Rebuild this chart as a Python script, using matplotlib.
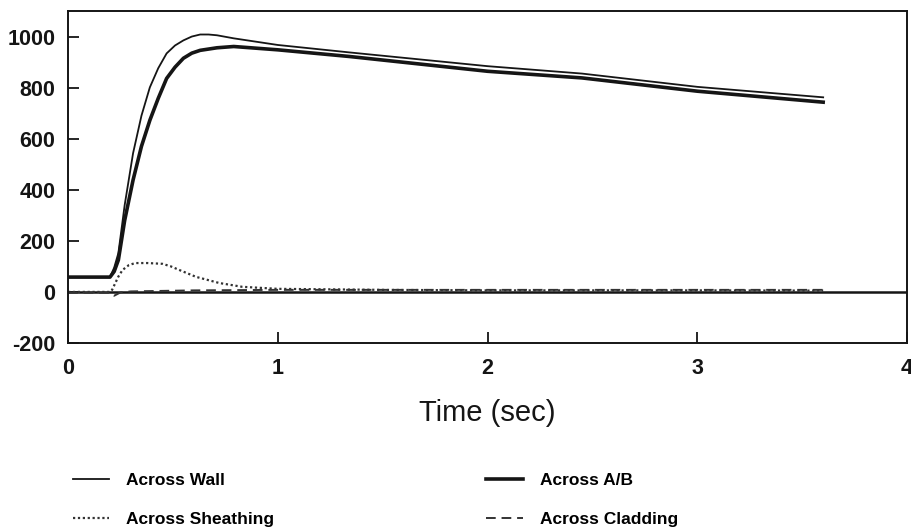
import matplotlib
matplotlib.use("Agg")
import matplotlib.pyplot as plt

# values (pressure vs time)
time_wall = [0, 0.2, 0.22, 0.24, 0.27, 0.31, 0.35, 0.39, 0.43, 0.47, 0.51, 0.55, 0.59, 0.63, 0.67, 0.71, 0.79, 1.0, 1.34, 2.0, 2.45, 3.0, 3.6]
across_wall = [58, 58, 95, 152, 340, 543, 690, 801, 876, 934, 965, 985, 1000, 1008, 1008, 1005, 993, 967, 938, 884, 855, 803, 762]

time_ab = [0, 0.2, 0.22, 0.24, 0.27, 0.31, 0.35, 0.39, 0.43, 0.47, 0.51, 0.55, 0.59, 0.63, 0.71, 0.79, 1.0, 1.34, 2.0, 2.45, 3.0, 3.6]
across_ab = [58, 58, 80, 125, 280, 438, 570, 672, 758, 836, 880, 915, 935, 946, 956, 961, 948, 922, 864, 838, 786, 743]

time_sheath = [0, 0.2, 0.21, 0.24, 0.26, 0.29, 0.32, 0.38, 0.45, 0.49, 0.53, 0.61, 0.72, 0.83, 1.0, 1.5, 2.0, 2.5, 3.0, 3.6]
across_sheath = [0, 0, 8, 60, 86, 105, 113, 113, 110, 100, 86, 59, 35, 20, 12, 8, 6, 6, 6, 5]

time_clad = [0, 0.2, 0.22, 0.25, 0.3, 0.6, 1.0, 2.0, 3.0, 3.6]
across_clad = [-3, -3, -15, -2, 2, 6, 8, 8, 8, 8]

x_ticks = [0, 1, 2, 3, 4]
y_ticks = [-200, 0, 200, 400, 600, 800, 1000]

plt.rcParams['font.family'] = ['Liberation Sans', 'DejaVu Sans']
plt.rcParams['axes.unicode_minus'] = False
ink = '#151515'

fig = plt.figure(figsize=(9.12, 5.32), dpi=100)
ax = fig.add_axes([0.0746, 0.3553, 0.92, 0.624])

ax.axhline(0, color=ink, lw=1.8)
l1, = ax.plot(time_wall, across_wall, color=ink, lw=1.3, label='Across Wall')
l2, = ax.plot(time_ab, across_ab, color=ink, lw=2.6, label='Across A/B')
l3, = ax.plot(time_sheath, across_sheath, color='#333333', lw=1.6, ls=(0, (1, 1.2)), label='Across Sheathing')
l4, = ax.plot(time_clad, across_clad, color='#333333', lw=1.4, ls=(0, (5, 3)), label='Across Cladding')

ax.set_xlim(0, 4)
ax.set_ylim(-200, 1100)
ax.set_xticks(x_ticks)
ax.set_yticks(y_ticks)
ax.tick_params(axis='both', direction='in', length=8, width=1.3, colors=ink, labelsize=15.5)
ax.tick_params(axis='x', pad=11)
ax.tick_params(axis='y', pad=9)
for lab in ax.get_xticklabels() + ax.get_yticklabels():
    lab.set_fontweight('bold')
for s in ax.spines.values():
    s.set_linewidth(1.4)
    s.set_color(ink)

ax.set_xlabel('Time (sec)', fontsize=21, labelpad=14, color=ink)

fig.legend(handles=[l1, l3, l2, l4], ncol=2, frameon=False,
           loc='upper left', bbox_to_anchor=(0.072, 0.125),
           prop={'weight': 'bold', 'size': 12.5},
           handlelength=2.1, handletextpad=1.0, columnspacing=12.2,
           labelspacing=1.38, borderaxespad=0)

fig.savefig('out.png', dpi=100)
